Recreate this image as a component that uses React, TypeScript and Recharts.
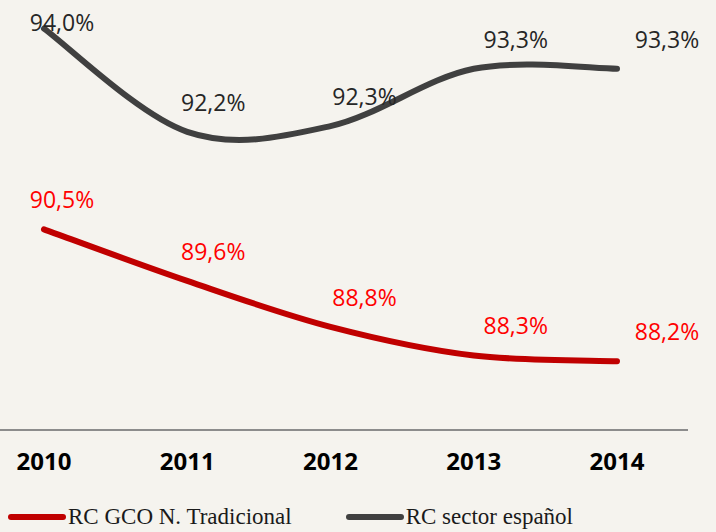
import { LineChart, Line, XAxis, YAxis, Legend } from "recharts";

const years = ["2010", "2011", "2012", "2013", "2014"];
const gcoTradicional = [90.5, 89.6, 88.8, 88.3, 88.2];
const sectorEspanol = [94.0, 92.2, 92.3, 93.3, 93.3];

const data = years.map((year, i) => ({
  year,
  gco: gcoTradicional[i],
  sector: sectorEspanol[i],
}));

const BG = "#F5F3EE";

// Excel-like smoothed line (Catmull-Rom through the points)
function smoothCurve(context: any) {
  let pts: number[][] = [];
  return {
    areaStart() {},
    areaEnd() {},
    lineStart() {
      pts = [];
    },
    point(x: number, y: number) {
      pts.push([+x, +y]);
    },
    lineEnd() {
      if (!pts.length) return;
      context.moveTo(pts[0][0], pts[0][1]);
      const t = 1 / 6;
      for (let i = 0; i < pts.length - 1; i++) {
        const p0 = pts[Math.max(i - 1, 0)];
        const p1 = pts[i];
        const p2 = pts[i + 1];
        const p3 = pts[Math.min(i + 2, pts.length - 1)];
        context.bezierCurveTo(
          p1[0] + (p2[0] - p0[0]) * t,
          p1[1] + (p2[1] - p0[1]) * t,
          p2[0] - (p3[0] - p1[0]) * t,
          p2[1] - (p3[1] - p1[1]) * t,
          p2[0],
          p2[1]
        );
      }
    },
  };
}

const fmt = (v: number) => v.toFixed(1).replace(".", ",") + "%";

function makeLabel(color: string) {
  return (props: any) => {
    const { x, y, value, index } = props;
    return (
      <text
        key={`lbl-${index}`}
        x={x + 18 + 8 * index}
        y={Math.max(y - 30, 22)}
        textAnchor="middle"
        dominantBaseline="central"
        fill={color}
        fontSize={23}
        fontFamily="'Open Sans', sans-serif"
      >
        {fmt(value)}
      </text>
    );
  };
}

function LegendContent({ payload }: any) {
  return (
    <div style={{ display: "flex", alignItems: "center", height: 30, paddingLeft: 8 }}>
      {(payload || []).map((entry: any, i: number) => (
        <div
          key={entry.value}
          style={{ display: "flex", alignItems: "center", marginRight: i === 0 ? 54 : 0 }}
        >
          <svg width={58} height={10}>
            <line x1={3} y1={5} x2={55} y2={5} stroke={entry.color} strokeWidth={6} strokeLinecap="round" />
          </svg>
          <span
            style={{
              fontFamily: "'Liberation Serif', serif",
              fontSize: 23,
              color: "#1a1a1a",
              marginLeft: 2,
              lineHeight: "30px",
            }}
          >
            {entry.value}
          </span>
        </div>
      ))}
    </div>
  );
}

export default function App() {
  return (
    <div style={{ width: 716, height: 532, background: BG }}>
      <style>{`body{margin:0}`}</style>
      <LineChart
        width={716}
        height={532}
        data={data}
        margin={{ top: 0, right: 28, left: 0, bottom: 0 }}
        style={{ background: BG }}
      >
        <XAxis
          dataKey="year"
          padding={{ left: 44, right: 71 }}
          height={72}
          axisLine={{ stroke: "#8c8c8c", strokeWidth: 2 }}
          tickLine={false}
          tickSize={0}
          tickMargin={23}
          tick={{
            fill: "#000",
            fontSize: 24,
            fontWeight: 700,
            fontFamily: "'Open Sans', sans-serif",
          }}
        />
        <YAxis hide domain={[87, 94.5]} />
        <Legend
          verticalAlign="bottom"
          align="left"
          wrapperStyle={{ left: 0 }}
          content={<LegendContent />}
        />
        <Line
          dataKey="gco"
          name="RC GCO N. Tradicional"
          stroke="#C00000"
          strokeWidth={6}
          strokeLinecap="round"
          type={smoothCurve as any}
          dot={false}
          activeDot={false}
          label={makeLabel("#FF0000")}
          isAnimationActive={false}
        />
        <Line
          dataKey="sector"
          name="RC sector español"
          stroke="#404040"
          strokeWidth={6}
          strokeLinecap="round"
          type={smoothCurve as any}
          dot={false}
          activeDot={false}
          label={makeLabel("#262626")}
          isAnimationActive={false}
        />
      </LineChart>
    </div>
  );
}
